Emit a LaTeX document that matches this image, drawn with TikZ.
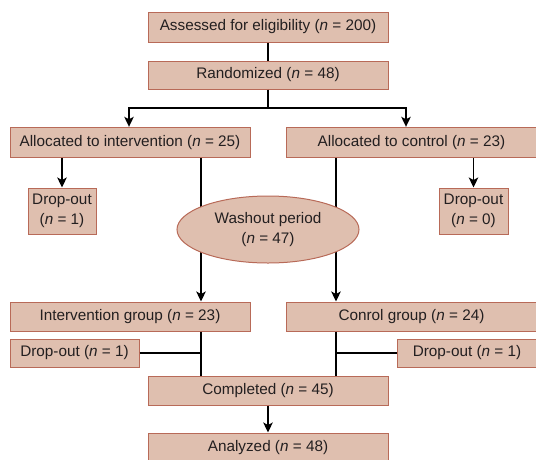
\documentclass[tikz,border=0pt]{standalone}
\usepackage{fontspec}
\setmainfont{Liberation Sans}
\usetikzlibrary{arrows.meta,shapes.geometric}
\definecolor{boxfill}{HTML}{DFBFAF}
\definecolor{boxline}{HTML}{B86A58}
\definecolor{txt}{HTML}{231F20}
\newcommand{\nn}{\textit{n}}
\begin{document}
\begin{tikzpicture}[x=1pt,y=-1pt,
  box/.style={draw=boxline,fill=boxfill,line width=1pt,inner sep=0pt,
    text=txt,font=\fontsize{15.3}{20}\selectfont,align=center},
  oval/.style={box,ellipse},
  conn/.style={line width=1.5pt,black},
  arr/.style={conn,-{Stealth[length=10pt,width=9.5pt,inset=2.5pt]}}]
\useasboundingbox (0,0) rectangle (536,459);
% nodes
\node[box,minimum width=240pt,minimum height=30pt] (assess) at (268,27) {Assessed for eligibility (\nn{} = 200)};
\node[box,minimum width=240pt,minimum height=28pt] (rand) at (268,75) {Randomized (\nn{} = 48)};
\node[box,minimum width=240pt,minimum height=30pt] (alloci) at (130,142.3) {Allocated to intervention (\nn{} = 25)};
\node[box,minimum width=251pt,minimum height=30pt] (allocc) at (411.5,142.3) {Allocated to control (\nn{} = 23)};
\node[box,minimum width=68pt,minimum height=46pt] (dropa) at (62,211) {Drop-out\\(\nn{} = 1)};
\node[box,minimum width=69pt,minimum height=46pt] (dropb) at (473.5,211) {Drop-out\\(\nn{} = 0)};
\node[box,minimum width=240pt,minimum height=29pt] (intg) at (130,316.5) {Intervention group (\nn{} = 23)};
\node[box,minimum width=251pt,minimum height=29pt] (contg) at (411.5,316.5) {Conrol group (\nn{} = 24)};
\node[box,minimum width=129pt,minimum height=28pt] (dropc) at (74.5,353) {Drop-out (\nn{} = 1)};
\node[box,minimum width=140pt,minimum height=28pt] (dropd) at (467,353) {Drop-out (\nn{} = 1)};
\node[box,minimum width=240pt,minimum height=29pt] (compl) at (268,390.5) {Completed (\nn{} = 45)};
\node[box,minimum width=240pt,minimum height=29pt] (anal) at (268,447.5) {Analyzed (\nn{} = 48)};
% helper coordinates
\coordinate (sp) at (268,108);
\coordinate (xl) at (201,0);
\coordinate (xr) at (336,0);
% connectors
\draw[conn] (assess.south) -- (rand.north);
\draw[conn] (rand.south) -- (sp);
\draw[arr] (sp) -| ([xshift=-1pt]alloci.north);
\draw[arr] (sp) -| ([xshift=-5.5pt]allocc.north);
\draw[arr] (alloci.south -| dropa.north) -- (dropa.north);
\draw[arr] (allocc.south -| dropb.north) -- (dropb.north);
\draw[arr] (alloci.south -| xl) -- (intg.north -| xl);
\draw[arr] (allocc.south -| xr) -- (contg.north -| xr);
\draw[conn] (intg.south -| xl) -- (compl.north -| xl);
\draw[conn] (contg.south -| xr) -- (compl.north -| xr);
\draw[conn] (dropc.east) -- (dropc.east -| xl);
\draw[conn] (dropd.west) -- (dropd.west -| xr);
\draw[arr] (compl.south) -- (anal.north);
% washout ellipse over the lines
\node[oval,minimum width=182pt,minimum height=67pt] (wash) at (268,229.5) {Washout period\\(\nn{} = 47)};
\end{tikzpicture}
\end{document}
